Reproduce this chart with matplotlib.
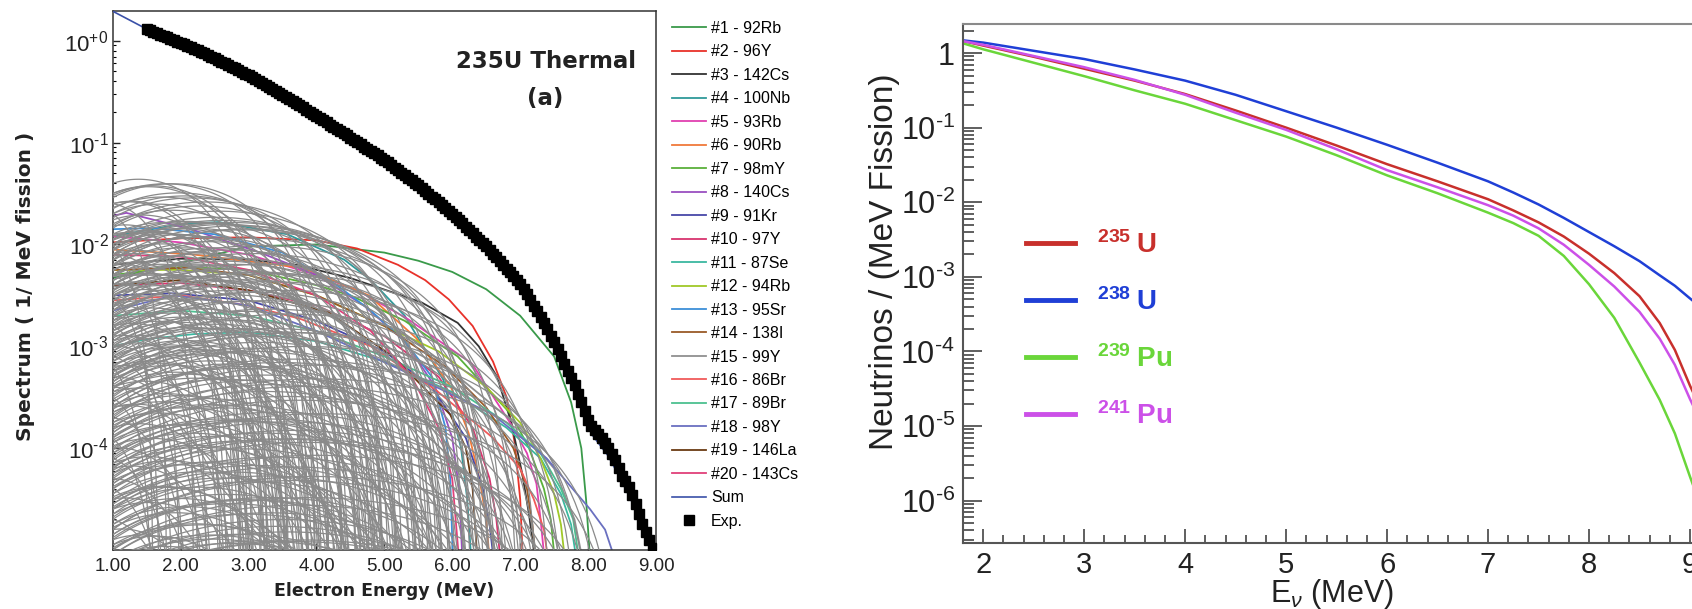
import numpy as np
import matplotlib
matplotlib.use('Agg')
import matplotlib.pyplot as plt
from matplotlib.lines import Line2D
from matplotlib.ticker import FixedLocator, FixedFormatter, LogLocator, NullFormatter, MultipleLocator

plt.rcParams['font.family'] = ['Liberation Sans', 'DejaVu Sans']
plt.rcParams['mathtext.fontset'] = 'custom'
plt.rcParams['mathtext.rm'] = 'Liberation Sans'
plt.rcParams['mathtext.it'] = 'Liberation Sans:italic'
plt.rcParams['mathtext.bf'] = 'Liberation Sans:bold'

W, H = 1692, 609

# ---- left panel: 235U thermal, top-20 contributors (log10 of spectrum) ----
iso_labels = ['#1 - 92Rb', '#2 - 96Y', '#3 - 142Cs', '#4 - 100Nb', '#5 - 93Rb',
              '#6 - 90Rb', '#7 - 98mY', '#8 - 140Cs', '#9 - 91Kr', '#10 - 97Y',
              '#11 - 87Se', '#12 - 94Rb', '#13 - 95Sr', '#14 - 138I', '#15 - 99Y',
              '#16 - 86Br', '#17 - 89Br', '#18 - 98Y', '#19 - 146La', '#20 - 143Cs']
iso_colors = ['#3a9a4a', '#e8322a', '#333333', '#2f9a9a', '#e040b0',
              '#f07a3a', '#5ab03a', '#9a4fc0', '#4848a8', '#d8346e',
              '#3cb8a0', '#a0c828', '#3d8fd8', '#9a5a28', '#909090',
              '#f05a5a', '#4cc090', '#6a70c0', '#6a3a12', '#e0407a']
iso_x = [
    [1, 2, 3, 4, 5, 5.5, 6, 6.5, 7, 7.5, 7.75, 7.9, 7.97, 8.03],
    [1, 2, 3, 4, 4.6, 5.2, 5.6, 5.95, 6.3, 6.6, 6.8, 6.92, 7.0, 7.04],
    [1, 2, 3, 3.7, 4.5, 5.25, 5.55, 6.08, 6.39, 6.66, 6.87, 7.03, 7.13, 7.22],
    [1, 2, 2.56, 3.57, 4.41, 4.8, 5.3, 5.87, 6.13, 6.22, 6.28],
    [1, 2, 3, 4, 4.6, 5.34, 6.29, 6.87, 7.1, 7.24, 7.3, 7.36],
    [1, 2.2, 3.8, 4.77, 5.47, 5.98, 6.24, 6.4, 6.5, 6.55],
    [1, 2, 3, 4, 4.5, 5.3, 6.08, 6.87, 7.13, 7.35, 7.45, 7.51],
    [1, 1.2, 2.15, 3.17, 4.0, 4.7, 5.3, 5.75, 6.0, 6.1, 6.15],
    [1, 1.9, 3, 4, 5, 5.7, 6.2, 6.45, 6.55, 6.61],
    [1, 2, 3, 4, 5, 5.8, 6.3, 6.55, 6.65, 6.71],
    [1, 1.5, 2.2, 3, 4, 5, 6, 6.8, 7.3, 7.6, 7.75, 7.83],
    [1, 2, 3, 4, 5, 5.8, 6.5, 7.0, 7.3, 7.5, 7.6, 7.66],
    [1, 1.6, 2.5, 3.5, 4.3, 4.8, 5.3, 5.7, 5.9, 5.97, 6.01],
    [1, 2.09, 3, 4, 5, 5.9, 6.5, 6.9, 7.1, 7.18, 7.23],
    [1, 2, 3, 4, 5, 6, 7, 7.5, 7.8, 7.92],
    [1, 2, 3, 3.76, 4.8, 5.76, 6.6, 7.0, 7.2, 7.35, 7.41],
    [1, 2, 3, 4, 5, 6, 6.8, 7.3, 7.6, 7.78, 7.87],
    [1, 1.9, 3, 4, 5.24, 6.6, 7.39, 8.03, 8.25, 8.4],
    [1, 2, 3, 4.18, 5.13, 5.97, 6.2, 6.3, 6.37],
    [1, 2, 3, 4, 4.8, 5.4, 5.8, 6.0, 6.1],
]
iso_logy = [
    [-2.33, -2.18, -2.02, -2.0, -2.08, -2.16, -2.27, -2.44, -2.7, -3.1, -3.55, -4.0, -4.5, -5.1],
    [-1.98, -1.94, -1.93, -1.96, -2.04, -2.2, -2.35, -2.54, -2.8, -3.15, -3.5, -3.95, -4.5, -5.1],
    [-2.2, -2.14, -2.15, -2.2, -2.33, -2.5, -2.57, -2.77, -3.0, -3.3, -3.75, -4.25, -4.65, -5.1],
    [-1.92, -1.8, -1.78, -1.9, -2.15, -2.35, -2.7, -3.33, -4.0, -4.5, -5.1],
    [-1.92, -1.98, -2.1, -2.3, -2.45, -2.73, -3.17, -3.77, -4.05, -4.35, -4.7, -5.1],
    [-2.05, -2.1, -2.23, -2.5, -2.92, -3.4, -3.85, -4.3, -4.7, -5.1],
    [-2.3, -2.22, -2.25, -2.4, -2.5, -2.75, -3.1, -3.67, -4.0, -4.4, -4.7, -5.1],
    [-1.72, -1.69, -1.85, -2.08, -2.3, -2.6, -2.95, -3.4, -3.9, -4.4, -5.1],
    [-2.5, -2.48, -2.55, -2.75, -3.05, -3.4, -3.9, -4.4, -4.75, -5.1],
    [-2.4, -2.38, -2.45, -2.6, -2.9, -3.3, -3.8, -4.3, -4.7, -5.1],
    [-3.0, -2.93, -2.88, -2.86, -2.95, -3.15, -3.45, -3.8, -4.1, -4.45, -4.75, -5.1],
    [-2.25, -2.25, -2.3, -2.5, -2.8, -3.05, -3.4, -3.75, -4.1, -4.45, -4.75, -5.1],
    [-1.85, -1.84, -1.9, -2.08, -2.4, -2.65, -2.95, -3.3, -3.8, -4.3, -5.1],
    [-2.25, -2.23, -2.3, -2.5, -2.8, -3.2, -3.6, -4.0, -4.4, -4.75, -5.1],
    [-2.3, -2.3, -2.4, -2.6, -2.9, -3.25, -3.8, -4.2, -4.7, -5.1],
    [-2.55, -2.5, -2.6, -2.73, -3.0, -3.43, -3.9, -4.2, -4.5, -4.8, -5.1],
    [-2.7, -2.65, -2.7, -2.85, -3.1, -3.4, -3.75, -4.05, -4.4, -4.7, -5.1],
    [-2.65, -2.5, -2.6, -2.85, -3.23, -3.67, -4.1, -4.6, -4.8, -5.1],
    [-2.4, -2.35, -2.45, -2.67, -3.1, -3.67, -4.0, -4.4, -5.1],
    [-2.1, -2.12, -2.25, -2.5, -2.85, -3.3, -3.8, -4.3, -5.1],
]

# remaining (grey) nuclides: log10 value at 1 MeV and endpoint energy (MeV)
grey_log_at1 = [
    -1.40, -1.52, -1.50, -1.65, -1.60, -1.74, -1.82, -1.70, -1.80, -1.95,
    -1.82, -1.95, -2.00, -1.92, -2.05, -2.10, -2.02, -2.05, -2.10, -2.12,
    -2.15, -2.20, -2.22, -2.25, -2.30, -2.32, -2.35, -2.40, -2.42, -2.45,
    -2.50, -2.52, -2.55, -2.60, -2.62, -2.65, -2.70, -2.72, -2.75, -2.80,
    -2.82, -2.85, -2.90, -2.92, -2.95, -3.00, -3.02, -3.05, -3.10, -3.12,
    -3.15, -3.20, -3.22, -3.25, -3.30, -3.32, -3.35, -3.40, -3.42, -3.45,
    -3.50, -3.52, -3.55, -3.60, -3.62, -3.65, -3.70, -3.72, -3.75, -3.80,
    -3.82, -3.85, -3.90, -3.92, -3.95, -4.00, -4.02, -4.05, -4.10, -4.12,
    -4.15, -4.20, -4.22, -4.25, -4.30, -4.32, -4.35, -4.40, -4.45, -4.50,
    -4.52, -4.55, -4.60, -4.65, -4.70, -4.75, -4.80, -4.85, -4.90, -4.95,
    -5.00, -5.05, -5.10, -5.15, -5.20, -5.30, -5.40, -5.50, -5.60, -5.70,
    -1.60, -1.70, -1.90, -2.00, -2.10, -2.20, -2.30, -2.40, -2.50, -2.60,
    -2.70, -2.80, -2.90, -3.00, -3.10, -3.20, -3.30, -3.40, -3.50, -3.60,
    -3.70, -3.80, -3.90, -4.00, -4.10, -4.20, -4.30, -4.40, -4.50, -4.60,
    -4.70, -4.80, -4.90, -5.00,
    -2.45, -2.55, -2.65, -2.75, -2.85, -2.95, -3.05, -3.15, -3.25, -3.35,
    -3.45, -3.55, -3.65, -3.75, -3.85, -3.95, -4.05, -4.15, -4.25, -4.35,
    -4.45, -4.55, -4.65, -4.75, -4.85, -4.95, -5.05, -5.15, -5.25, -5.35,
    -2.48, -2.58, -2.68, -2.78, -2.88, -2.98, -3.08, -3.18, -3.28, -3.38,
    -3.48, -3.58, -3.68, -3.78, -3.88, -3.98, -4.08, -4.18, -4.28, -4.38,
    -4.48, -4.58, -4.68, -4.78, -4.88, -4.98, -5.08, -5.18, -5.28, -5.38,
    -3.30, -3.60, -3.90, -4.20, -4.40, -4.60, -4.80, -5.00, -5.20, -5.40,
    -5.50, -5.60, -5.70, -5.80,
    -1.50, -1.54, -1.60, -1.64, -1.70, -1.76, -1.84, -1.90, -1.96, -2.00,
    -2.06, -2.10, -2.16, -2.20, -2.26, -2.30, -2.36, -2.40, -2.46, -2.50,
    -1.95, -2.00, -2.05, -2.10, -2.15, -2.20, -2.25, -2.30, -2.35, -2.40,
    -2.45, -2.50, -2.55, -2.60, -2.65, -2.70, -2.75, -2.80, -2.85, -2.90,
    -2.95, -3.00, -3.05, -3.10, -3.15, -3.20, -3.25, -3.30, -3.35, -3.40,
    -1.90, -2.00, -2.20, -2.40, -2.60, -2.80, -3.00, -3.20, -3.40, -3.60]
grey_endpoint = [
    3.2, 4.0, 3.6, 4.4, 3.0, 4.8, 5.2, 3.8, 4.2, 5.6,
    2.8, 4.6, 5.0, 3.4, 5.4, 6.0, 4.1, 4.9, 5.8, 3.1,
    6.2, 4.5, 5.3, 3.7, 6.5, 5.1, 4.3, 6.8, 2.9, 5.7,
    4.7, 6.1, 3.5, 7.0, 5.5, 4.0, 6.4, 7.3, 3.3, 5.9,
    4.8, 6.7, 7.5, 4.4, 5.2, 6.3, 3.9, 7.1, 5.6, 4.6,
    7.7, 6.0, 3.6, 5.0, 6.9, 4.2, 7.9, 5.4, 6.6, 3.2,
    8.1, 4.9, 6.2, 7.4, 5.8, 4.5, 8.3, 6.8, 3.8, 7.2,
    5.3, 8.5, 6.1, 4.3, 7.6, 5.7, 8.0, 4.8, 6.5, 7.0,
    3.5, 8.6, 5.1, 6.9, 7.8, 4.4, 6.3, 5.5, 8.2, 4.0,
    7.3, 6.0, 5.0, 7.7, 6.6, 4.6, 8.4, 5.9, 7.1, 3.7,
    6.4, 8.0, 5.3, 7.5, 4.2, 6.8, 7.9, 5.6, 8.3, 6.2,
    2.2, 1.8, 2.6, 1.6, 2.4, 3.0, 2.0, 2.8, 1.7, 3.3,
    2.3, 1.9, 2.7, 3.1, 2.1, 1.6, 2.5, 3.4, 1.8, 2.9,
    2.2, 3.2, 1.7, 2.6, 2.0, 3.0, 2.4, 1.9, 2.8, 3.5,
    2.1, 2.7, 3.3, 2.3,
    4.1, 5.9, 6.6, 4.9, 3.8, 6.9, 5.1, 4.3, 7.2, 5.7,
    4.6, 6.4, 3.9, 5.2, 7.0, 4.7, 6.1, 5.5, 4.1, 7.4,
    5.0, 6.7, 4.4, 5.8, 6.3, 4.9, 7.1, 5.4, 6.0, 4.5,
    5.0, 3.6, 5.6, 7.1, 4.5, 5.3, 6.2, 3.7, 4.8, 6.5,
    5.9, 4.0, 6.9, 4.6, 5.6, 3.6, 7.3, 4.9, 6.4, 5.2,
    3.9, 5.7, 7.0, 4.3, 6.6, 5.1, 4.0, 6.2, 7.6, 5.0,
    7.4, 7.8, 8.2, 7.6, 8.0, 8.5, 7.9, 8.3, 7.3, 8.1,
    7.7, 8.6, 7.5, 8.2,
    3.5, 4.2, 2.9, 3.9, 4.6, 3.3, 5.0, 4.0, 3.6, 5.5,
    4.4, 3.2, 5.2, 6.3, 4.7, 3.9, 5.9, 4.9, 6.6, 3.4,
    3.6, 4.4, 5.7, 3.9, 5.0, 6.4, 4.2, 5.5, 3.5, 4.8,
    6.0, 3.8, 5.2, 4.5, 6.7, 3.6, 5.8, 4.1, 5.0, 6.3,
    3.4, 4.7, 5.5, 4.0, 6.1, 4.9, 3.7, 5.4, 6.8, 4.3,
    2.9, 3.3, 2.7, 3.1, 2.6, 3.0, 2.5, 2.8, 2.4, 3.1]

sum_x = [1.0, 1.5, 2.0, 2.5, 3.0, 3.5, 4.0, 4.5, 5.0, 5.5, 6.0, 6.5, 7.0, 7.5,
         7.8, 8.0, 8.05, 8.3, 8.5, 8.7, 8.9, 8.95]
sum_logy = [0.29, 0.115, -0.02, -0.17, -0.34, -0.53, -0.74, -0.95, -1.17, -1.42,
            -1.70, -2.02, -2.39, -2.96, -3.38, -3.70, -3.86, -4.08, -4.33, -4.6,
            -4.9, -5.02]

# measured spectrum, 50 keV bins from 1.50 MeV
exp_x = np.round(1.5 + 0.05 * np.arange(150), 2)
exp_logy = [
    0.115, 0.102, 0.09, 0.075, 0.06, 0.048, 0.035, 0.02, 0.005, -0.008,
    -0.02, -0.035, -0.05, -0.065, -0.08, -0.095, -0.11, -0.125, -0.14, -0.155,
    -0.17, -0.188, -0.205, -0.222, -0.24, -0.255, -0.27, -0.288, -0.305, -0.322,
    -0.34, -0.36, -0.38, -0.398, -0.415, -0.435, -0.455, -0.472, -0.49, -0.51,
    -0.53, -0.55, -0.57, -0.59, -0.61, -0.632, -0.655, -0.678, -0.70, -0.72,
    -0.74, -0.76, -0.78, -0.802, -0.825, -0.845, -0.865, -0.888, -0.91, -0.93,
    -0.95, -0.972, -0.995, -1.018, -1.04, -1.06, -1.08, -1.102, -1.125, -1.148,
    -1.17, -1.195, -1.22, -1.245, -1.27, -1.295, -1.32, -1.345, -1.37, -1.395,
    -1.42, -1.448, -1.475, -1.502, -1.53, -1.558, -1.585, -1.612, -1.64, -1.67,
    -1.70, -1.73, -1.76, -1.792, -1.825, -1.858, -1.89, -1.922, -1.955, -1.988,
    -2.02, -2.055, -2.09, -2.128, -2.165, -2.202, -2.24, -2.275, -2.31, -2.35,
    -2.39, -2.44, -2.49, -2.545, -2.60, -2.655, -2.71, -2.77, -2.83, -2.895,
    -2.96, -3.03, -3.10, -3.17, -3.24, -3.31, -3.38, -3.465, -3.55, -3.635,
    -3.72, -3.78, -3.82, -3.86, -3.90, -3.95, -4.00, -4.06, -4.12, -4.195,
    -4.27, -4.32, -4.38, -4.46, -4.55, -4.65, -4.74, -4.82, -4.90, -4.98]

# ---- right panel: neutrino spectra per fission (log10) ----
nu_names = ['235', '238', '239', '241']
nu_elems = ['U', 'U', 'Pu', 'Pu']
nu_colors = ['#c8302c', '#1f3fd6', '#6ad63a', '#cc50e8']
nu_x = [1.8, 2.0, 2.5, 3.0, 3.5, 4.0, 4.5, 5.0, 5.5, 6.0, 6.5, 7.0, 7.25, 7.5,
        7.75, 8.0, 8.25, 8.5, 8.7, 8.85, 9.0, 9.1]
nu_logy = [
    [0.16, 0.10, -0.05, -0.21, -0.37, -0.55, -0.77, -1.00, -1.24, -1.49, -1.72,
     -1.96, -2.11, -2.27, -2.46, -2.69, -2.95, -3.26, -3.62, -3.98, -4.46, -4.75],
    [0.17, 0.14, 0.03, -0.08, -0.22, -0.37, -0.56, -0.78, -1.00, -1.23, -1.47,
     -1.72, -1.87, -2.03, -2.21, -2.40, -2.59, -2.79, -2.98, -3.12, -3.29, -3.40],
    [0.13, 0.05, -0.13, -0.31, -0.50, -0.68, -0.90, -1.12, -1.37, -1.64, -1.88,
     -2.14, -2.28, -2.45, -2.72, -3.10, -3.55, -4.15, -4.65, -5.10, -5.68, -6.05],
    [0.16, 0.11, -0.04, -0.19, -0.36, -0.56, -0.80, -1.03, -1.29, -1.57, -1.80,
     -2.04, -2.18, -2.35, -2.57, -2.84, -3.13, -3.47, -3.83, -4.18, -4.64, -4.92],
]

ME = 0.511


def beta_shape(e, q):
    p = np.sqrt(e ** 2 + 2 * ME * e)
    return p * (e + ME) * (q - e) ** 2


def fx(px):
    return px / W


def fy(py):
    return 1 - py / H


def dec_label(k, plus=False):
    if k == 0:
        return r'$10^{+0}$' if plus else '1'
    return r'$10^{\text{-}%d}$' % (-k)


fig = plt.figure(figsize=(W / 100, H / 100), dpi=100)

# ======================= left panel =======================
ax1 = fig.add_axes([fx(112.7), fy(550), (656 - 112.7) / W, (550 - 11) / H])
ax1.set_yscale('log')
ax1.set_xlim(1, 9)
ax1.set_ylim(1e-5, 10 ** 0.292)

handles = []
for lab, col, xs, ls in zip(iso_labels, iso_colors, iso_x, iso_logy):
    h, = ax1.plot(xs, 10 ** np.array(ls), color=col, lw=1.3, zorder=2, label=lab)
    handles.append(h)

for a1, q in zip(grey_log_at1, grey_endpoint):
    e = np.linspace(1, q - 1e-3, 120)
    ax1.plot(e, 10 ** a1 * beta_shape(e, q) / beta_shape(1.0, q),
             color='#8a8a8a', lw=0.9, zorder=3)

hs, = ax1.plot(sum_x, 10 ** np.array(sum_logy), color='#3a50a8', lw=1.2, zorder=4, label='Sum')
he, = ax1.plot(exp_x, 10 ** np.array(exp_logy), 's', color='black', ms=6.5, zorder=5,
               linestyle='none', label='Exp.')
handles += [hs, he]

ax1.set_xticks(range(1, 10))
ax1.set_xticklabels([f'{v:.2f}' for v in range(1, 10)])
left_dec = [-4, -3, -2, -1, 0]
ax1.yaxis.set_major_locator(FixedLocator([10.0 ** k for k in left_dec]))
ax1.yaxis.set_major_formatter(FixedFormatter([dec_label(k, plus=True) for k in left_dec]))
ax1.yaxis.set_minor_locator(LogLocator(base=10, subs=np.arange(2, 10), numticks=20))
ax1.yaxis.set_minor_formatter(NullFormatter())
ax1.tick_params(axis='both', which='major', direction='in', colors='#222222',
                length=5, width=1)
ax1.tick_params(axis='x', which='major', labelsize=13.5, pad=6)
ax1.tick_params(axis='y', which='major', labelsize=16, pad=3)
ax1.tick_params(axis='y', which='minor', direction='in', length=2.5, width=0.8)
for s in ax1.spines.values():
    s.set_color('#333333')
    s.set_linewidth(1.1)

fig.text(fx(384), fy(591), 'Electron Energy (MeV)', ha='center', va='center',
         fontsize=12.5, fontweight='bold', family='DejaVu Sans', color='#222222')
fig.text(fx(26), fy(286), 'Spectrum ( 1/ MeV fission )', ha='center', va='center',
         rotation=90, fontsize=14.5, fontweight='bold', family='DejaVu Sans', color='#222222')
fig.text(fx(546), fy(62), '235U Thermal', ha='center', va='center', fontsize=16.5,
         fontweight='bold', family='DejaVu Sans', color='#222222')
fig.text(fx(545), fy(99), '(a)', ha='center', va='center', fontsize=16.5,
         fontweight='bold', family='DejaVu Sans', color='#222222')

fig.legend(handles=handles, loc='upper left', bbox_to_anchor=(fx(672), fy(21)),
           frameon=False, fontsize=11.5, handlelength=2.1, handletextpad=0.35,
           labelspacing=0.53, borderpad=0, borderaxespad=0)

# ======================= right panel =======================
x2lo, x2hi, ppu = 1.802, 10.0, 100.96
ax2 = fig.add_axes([fx(963.3), fy(543), (x2hi - x2lo) * ppu / W, (543 - 23.5) / H])
ax2.set_yscale('log')
ax2.set_xlim(x2lo, x2hi)
ax2.set_ylim(2.7e-7, 2.49)

for col, ls in zip(nu_colors, nu_logy):
    ax2.plot(nu_x, 10 ** np.array(ls), color=col, lw=1.8)

right_dec = [-6, -5, -4, -3, -2, -1, 0]
ax2.xaxis.set_major_locator(MultipleLocator(1))
ax2.xaxis.set_minor_locator(MultipleLocator(0.2))
ax2.yaxis.set_major_locator(FixedLocator([10.0 ** k for k in right_dec]))
ax2.yaxis.set_major_formatter(FixedFormatter([dec_label(k) for k in right_dec]))
ax2.yaxis.set_minor_locator(LogLocator(base=10, subs=np.arange(2, 10), numticks=20))
ax2.yaxis.set_minor_formatter(NullFormatter())
ax2.tick_params(axis='both', which='both', direction='in', colors='#444444',
                labelcolor='#222222', width=1.2)
ax2.tick_params(axis='y', which='major', length=14, pad=6, labelsize=22)
ax2.tick_params(axis='y', which='minor', length=8)
ax2.tick_params(axis='x', which='major', length=10, pad=6, labelsize=21)
ax2.tick_params(axis='x', which='minor', length=6)
for s in ax2.spines.values():
    s.set_color('#555555')
    s.set_linewidth(1.5)
ax2.spines['top'].set_color('#8a8a8a')

fig.text(fx(884), fy(262), 'Neutrinos / (MeV Fission)', rotation=90, ha='center',
         va='center', fontsize=24, color='#222222')
fig.text(fx(1332), fy(594), r'E$_{\nu}$ (MeV)', ha='center', va='center',
         fontsize=22, color='#222222')

nu_handles = [Line2D([], [], color=c, lw=3.5) for c in nu_colors]
nu_labels = [r'$^{\mathbf{%s}}\;$%s' % (n, e) for n, e in zip(nu_names, nu_elems)]
ax2.legend(nu_handles, nu_labels, loc='upper left', bbox_to_anchor=(fx(1026), fy(231)),
           bbox_transform=fig.transFigure, frameon=False,
           prop={'size': 20, 'weight': 'bold'}, labelcolor=nu_colors,
           handlelength=1.75, handletextpad=0.8, labelspacing=1.05,
           borderpad=0, borderaxespad=0)

fig.savefig('out.png', dpi=100)
